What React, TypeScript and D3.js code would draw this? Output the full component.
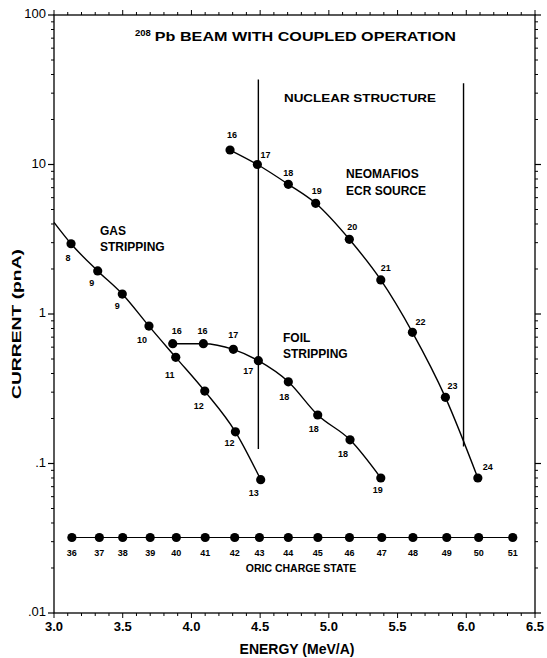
import React from "react";
import * as d3 from "d3";

// ---- data ----
const gasEnergy = [3.0, 3.124, 3.318, 3.497, 3.691, 3.886, 4.097, 4.32, 4.504];
const gasCurrent = [4.1, 2.95, 1.94, 1.36, 0.83, 0.513, 0.305, 0.163, 0.078];
const gasCharge = [null, 8, 9, 9, 10, 11, 12, 12, 13];
const gasLabelDx = [0, -3, -6, -5, -7, -6, -6, -6, -7];
const gasLabelDy = [0, 15, 13, 13, 15, 18, 16, 12, 14];

const foilEnergy = [3.864, 4.087, 4.305, 4.487, 4.705, 4.919, 5.154, 5.378];
const foilCurrent = [0.633, 0.633, 0.58, 0.487, 0.352, 0.211, 0.144, 0.08];
const foilCharge = [16, 16, 17, 17, 18, 18, 18, 19];
const foilLabelDx = [4, -1, 0, -10, -4, -4, -7, -3];
const foilLabelDy = [-12, -12, -14, 11, 16, 15, 15, 13];

const neoEnergy = [4.281, 4.48, 4.705, 4.904, 5.149, 5.378, 5.608, 5.848, 6.084];
const neoCurrent = [12.5, 10.0, 7.37, 5.5, 3.16, 1.69, 0.754, 0.277, 0.08];
const neoCharge = [16, 17, 18, 19, 20, 21, 22, 23, 24];
const neoLabelDx = [2, 8, 0, 1, 3, 5, 8, 7, 10];
const neoLabelDy = [-14, -9, -11, -12, -12, -11, -10, -11, -10];

const oricEnergy = [3.13, 3.33, 3.5, 3.7, 3.89, 4.1, 4.315, 4.495, 4.705, 4.92, 5.15, 5.385, 5.612, 5.858, 6.09, 6.338];
const oricCharge = [36, 37, 38, 39, 40, 41, 42, 43, 44, 45, 46, 47, 48, 49, 50, 51];
const oricCurrent = 0.032;

const boundaryEnergy = [4.487, 5.98];
const boundaryTop = [37, 35];
const boundaryBottom = [0.125, 0.13];

const xTickLabels = ["3.0", "3.5", "4.0", "4.5", "5.0", "5.5", "6.0", "6.5"];
const yTickValues = [0.01, 0.1, 1, 10, 100];
const yTickLabels = [".01", ".1", "1", "10", "100"];

const FONT = "'Liberation Sans', Arial, Helvetica, sans-serif";

export default function App() {
  const x = d3.scaleLinear().domain([3, 6.5]).range([54, 535]);
  const y = d3.scaleLog().domain([0.01, 100]).range([613, 15]);

  const line = d3
    .line<[number, number]>()
    .x((d) => x(d[0]))
    .y((d) => y(d[1]))
    .curve(d3.curveMonotoneX);

  const straight = d3
    .line<[number, number]>()
    .x((d) => x(d[0]))
    .y((d) => y(d[1]));

  const gasPts = gasEnergy.map((e, i) => [e, gasCurrent[i]] as [number, number]);
  const foilPts = foilEnergy.map((e, i) => [e, foilCurrent[i]] as [number, number]);
  const neoPts = neoEnergy.map((e, i) => [e, neoCurrent[i]] as [number, number]);
  const oricPts = oricEnergy.map((e) => [e, oricCurrent] as [number, number]);

  const xMinor = d3.range(30, 66).map((v) => v / 10);
  const yMinor: number[] = [];
  [0.01, 0.1, 1, 10].forEach((dec) => {
    for (let k = 2; k <= 9; k++) yMinor.push(dec * k);
  });

  const [x0, x1] = x.range();
  const [yb, yt] = y.range();

  const dot = (pts: [number, number][], key: string) =>
    pts.map((p, i) => <circle key={key + i} cx={x(p[0])} cy={y(p[1])} r={4.6} fill="#000" />);

  const labels = (
    pts: [number, number][],
    charges: (number | null)[],
    dx: number[],
    dy: number[],
    key: string
  ) =>
    pts.map((p, i) =>
      charges[i] == null ? null : (
        <text
          key={key + i}
          x={x(p[0]) + dx[i]}
          y={y(p[1]) + dy[i]}
          textAnchor="middle"
          dominantBaseline="middle"
          fontSize={9}
          fontWeight="bold"
          fontFamily={FONT}
        >
          {charges[i]}
        </text>
      )
    );

  return (
    <svg width={547} height={658} style={{ position: "absolute", left: 0, top: 0, background: "#fff" }}>
      <rect x={0} y={0} width={547} height={658} fill="#fff" />
      {/* frame */}
      <rect x={x0} y={yt} width={x1 - x0} height={yb - yt} fill="none" stroke="#000" strokeWidth={1.3} />

      {/* x ticks bottom + top */}
      {xMinor.map((v, i) => {
        const major = Math.abs(v * 2 - Math.round(v * 2)) < 1e-6;
        const len = major ? 5 : 3;
        return (
          <g key={"xt" + i}>
            <line x1={x(v)} x2={x(v)} y1={yb} y2={yb + len} stroke="#000" strokeWidth={1} />
            <line x1={x(v)} x2={x(v)} y1={yt} y2={yt - len} stroke="#000" strokeWidth={1} />
          </g>
        );
      })}
      {/* y ticks left + right */}
      {yTickValues.map((v, i) => (
        <g key={"ytM" + i}>
          <line x1={x0} x2={x0 - 6} y1={y(v)} y2={y(v)} stroke="#000" strokeWidth={1.2} />
          <line x1={x1} x2={x1 + 6} y1={y(v)} y2={y(v)} stroke="#000" strokeWidth={1.2} />
        </g>
      ))}
      {yMinor.map((v, i) => (
        <g key={"ytm" + i}>
          <line x1={x0} x2={x0 - 3} y1={y(v)} y2={y(v)} stroke="#000" strokeWidth={1} />
          <line x1={x1} x2={x1 + 3} y1={y(v)} y2={y(v)} stroke="#000" strokeWidth={1} />
        </g>
      ))}

      {/* tick labels */}
      {xTickLabels.map((t, i) => (
        <text
          key={"xl" + i}
          x={x(+t)}
          y={631}
          textAnchor="middle"
          fontSize={13}
          fontWeight="bold"
          fontFamily={FONT}
        >
          {t}
        </text>
      ))}
      {yTickValues.map((v, i) => (
        <text
          key={"yl" + i}
          x={46}
          y={y(v)}
          textAnchor="end"
          dominantBaseline="middle"
          fontSize={13}
          fontFamily={FONT}
        >
          {yTickLabels[i]}
        </text>
      ))}

      {/* axis titles */}
      <text
        x={297}
        y={654}
        textAnchor="middle"
        fontSize={14}
        fontWeight="bold"
        fontFamily={FONT}
      >
        ENERGY (MeV/A)
      </text>
      <text
        transform={`translate(21,324) rotate(-90)`}
        textAnchor="middle"
        fontSize={13.5}
        fontWeight="bold"
        fontFamily={FONT}
        textLength={150}
        lengthAdjust="spacingAndGlyphs"
      >
        CURRENT (pnA)
      </text>

      {/* title */}
      <text x={135} y={41} fontFamily={FONT} fontWeight="bold">
        <tspan fontSize={9.5} dy={-5}>208</tspan>
        <tspan fontSize={12.5} dx={4} dy={5} textLength={301} lengthAdjust="spacingAndGlyphs">
          Pb BEAM WITH COUPLED OPERATION
        </tspan>
      </text>

      {/* region boundaries */}
      {boundaryEnergy.map((e, i) => (
        <line
          key={"bd" + i}
          x1={x(e)}
          x2={x(e)}
          y1={y(boundaryTop[i])}
          y2={y(boundaryBottom[i])}
          stroke="#000"
          strokeWidth={1.4}
        />
      ))}

      {/* annotations */}
      <text x={284} y={102} fontSize={11.5} fontWeight="bold" fontFamily={FONT} textLength={152} lengthAdjust="spacingAndGlyphs">
        NUCLEAR STRUCTURE
      </text>
      <text x={346} y={178} fontSize={12} fontWeight="bold" fontFamily={FONT}>NEOMAFIOS</text>
      <text x={346} y={195} fontSize={12} fontWeight="bold" fontFamily={FONT}>ECR SOURCE</text>
      <text x={100} y={235} fontSize={12} fontWeight="bold" fontFamily={FONT}>GAS</text>
      <text x={100} y={251} fontSize={12} fontWeight="bold" fontFamily={FONT}>STRIPPING</text>
      <text x={283} y={342} fontSize={12} fontWeight="bold" fontFamily={FONT}>FOIL</text>
      <text x={283} y={358} fontSize={12} fontWeight="bold" fontFamily={FONT}>STRIPPING</text>

      {/* series lines */}
      <path d={line(gasPts) || ""} fill="none" stroke="#000" strokeWidth={1.4} />
      <path d={line(foilPts) || ""} fill="none" stroke="#000" strokeWidth={1.4} />
      <path d={line(neoPts) || ""} fill="none" stroke="#000" strokeWidth={1.4} />
      <path d={straight(oricPts) || ""} fill="none" stroke="#000" strokeWidth={1.2} />

      {/* markers */}
      {dot(gasPts.slice(1), "gd")}
      {dot(foilPts, "fd")}
      {dot(neoPts, "nd")}
      {dot(oricPts, "od")}

      {/* point labels */}
      {labels(gasPts, gasCharge, gasLabelDx, gasLabelDy, "gl")}
      {labels(foilPts, foilCharge, foilLabelDx, foilLabelDy, "fl")}
      {labels(neoPts, neoCharge, neoLabelDx, neoLabelDy, "nl")}
      {oricPts.map((p, i) => (
        <text
          key={"ol" + i}
          x={x(p[0])}
          y={y(p[1]) + 16}
          textAnchor="middle"
          dominantBaseline="middle"
          fontSize={9}
          fontWeight="bold"
          fontFamily={FONT}
        >
          {oricCharge[i]}
        </text>
      ))}
      <text x={301} y={572} textAnchor="middle" fontSize={10.5} fontWeight="bold" fontFamily={FONT}>
        ORIC CHARGE STATE
      </text>
    </svg>
  );
}
